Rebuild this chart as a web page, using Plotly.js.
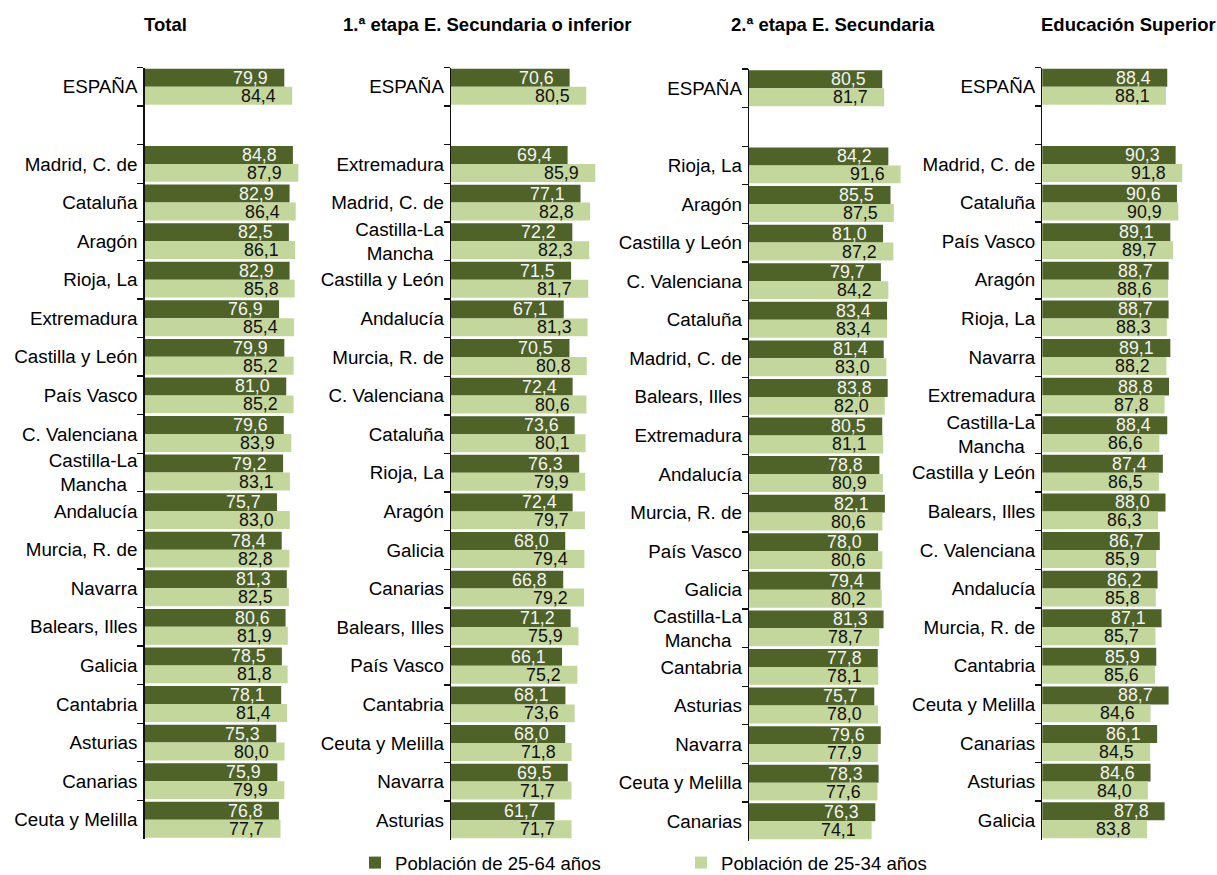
<!DOCTYPE html>
<html><head><meta charset="utf-8">
<script src="https://cdn.plot.ly/plotly-3.0.1.min.js"></script>
<style>html,body{margin:0;padding:0;background:#fff}</style>
</head><body><div id="chart" style="width:1217px;height:875px"></div>
<script>
const panelTitles = ["Total", "1.ª etapa E. Secundaria o inferior", "2.ª etapa E. Secundaria", "Educación Superior"];
const seriesNames = ["Población de 25-64 años", "Población de 25-34 años"];

const totalRegions = ["ESPAÑA","Madrid, C. de","Cataluña","Aragón","Rioja, La","Extremadura","Castilla y León","País Vasco","C. Valenciana","Castilla-La Mancha","Andalucía","Murcia, R. de","Navarra","Balears, Illes","Galicia","Cantabria","Asturias","Canarias","Ceuta y Melilla"];
const total2564 = [79.9,84.8,82.9,82.5,82.9,76.9,79.9,81.0,79.6,79.2,75.7,78.4,81.3,80.6,78.5,78.1,75.3,75.9,76.8];
const total2534 = [84.4,87.9,86.4,86.1,85.8,85.4,85.2,85.2,83.9,83.1,83.0,82.8,82.5,81.9,81.8,81.4,80.0,79.9,77.7];

const primRegions = ["ESPAÑA","Extremadura","Madrid, C. de","Castilla-La Mancha","Castilla y León","Andalucía","Murcia, R. de","C. Valenciana","Cataluña","Rioja, La","Aragón","Galicia","Canarias","Balears, Illes","País Vasco","Cantabria","Ceuta y Melilla","Navarra","Asturias"];
const prim2564 = [70.6,69.4,77.1,72.2,71.5,67.1,70.5,72.4,73.6,76.3,72.4,68.0,66.8,71.2,66.1,68.1,68.0,69.5,61.7];
const prim2534 = [80.5,85.9,82.8,82.3,81.7,81.3,80.8,80.6,80.1,79.9,79.7,79.4,79.2,75.9,75.2,73.6,71.8,71.7,71.7];

const secRegions = ["ESPAÑA","Rioja, La","Aragón","Castilla y León","C. Valenciana","Cataluña","Madrid, C. de","Balears, Illes","Extremadura","Andalucía","Murcia, R. de","País Vasco","Galicia","Castilla-La Mancha","Cantabria","Asturias","Navarra","Ceuta y Melilla","Canarias"];
const sec2564 = [80.5,84.2,85.5,81.0,79.7,83.4,81.4,83.8,80.5,78.8,82.1,78.0,79.4,81.3,77.8,75.7,79.6,78.3,76.3];
const sec2534 = [81.7,91.6,87.5,87.2,84.2,83.4,83.0,82.0,81.1,80.9,80.6,80.6,80.2,78.7,78.1,78.0,77.9,77.6,74.1];

const supRegions = ["ESPAÑA","Madrid, C. de","Cataluña","País Vasco","Aragón","Rioja, La","Navarra","Extremadura","Castilla-La Mancha","Castilla y León","Balears, Illes","C. Valenciana","Andalucía","Murcia, R. de","Cantabria","Ceuta y Melilla","Canarias","Asturias","Galicia"];
const sup2564 = [88.4,90.3,90.6,89.1,88.7,88.7,89.1,88.8,88.4,87.4,88.0,86.7,86.2,87.1,85.9,88.7,86.1,84.6,87.8];
const sup2534 = [88.1,91.8,90.9,89.7,88.6,88.3,88.2,87.8,86.6,86.5,86.3,85.9,85.8,85.7,85.6,84.6,84.5,84.0,83.8];

const panels = [
  {regions: totalRegions, a: total2564, b: total2534},
  {regions: primRegions, a: prim2564, b: prim2534},
  {regions: secRegions, a: sec2564, b: sec2534},
  {regions: supRegions, a: sup2564, b: sup2534}
];

// layout geometry (pixels)
const W = 1217, H = 875;
const axisLeft = [144.5, 451, 749, 1042.3];
const pxPerUnit = [1.75, 1.68, 1.655, 4.4];
const xRanges = [[0,100],[0,100],[0,100],[60,95]];
const titleCenters = [165, 487, 833, 1128];
const plotTops = [67.5, 67.5, 69, 67.5], plotBottoms = [839, 839.5, 840.5, 839.5];
const darkColor = "#4F6228", lightColor = "#C3D69B";
const FONT = "Liberation Sans, Arial, sans-serif";

function display(name) {
  return name === "Castilla-La Mancha" ? "Castilla-La<br>Mancha\u00a0\u00a0" : name;
}

const traces = [];
const annotations = [];
const layout = {
  width: W, height: H,
  margin: {l:0, r:0, t:0, b:0, autoexpand: false},
  paper_bgcolor: "#fff", plot_bgcolor: "rgba(0,0,0,0)",
  barmode: "group", bargap: 0.07, bargroupgap: 0,
  font: {family: FONT, size: 18, color: "#000"},
  showlegend: true,
  legend: {orientation: "h", x: 355/W, xanchor: "left", y: 1 - 863/H, yanchor: "middle",
           font: {family: FONT, size: 18.6, color: "#000"}, entrywidth: 281, entrywidthmode: "pixels",
           traceorder: "normal", itemclick: false, itemdoubleclick: false},
  annotations: annotations
};

panels.forEach((p, i) => {
  const n = i + 1;
  const xa = "x" + (n === 1 ? "" : n), ya = "y" + (n === 1 ? "" : n);
  const labels = p.regions.map(display);
  const cats = [labels[0], " "].concat(labels.slice(1));
  traces.push({type: "bar", orientation: "h", name: seriesNames[0], x: p.a, y: labels,
    xaxis: xa, yaxis: ya, marker: {color: darkColor}, showlegend: i === 0, legendgroup: "a",
    hoverinfo: "x+y", cliponaxis: false});
  traces.push({type: "bar", orientation: "h", name: seriesNames[1], x: p.b, y: labels,
    xaxis: xa, yaxis: ya, marker: {color: lightColor}, showlegend: i === 0, legendgroup: "b",
    hoverinfo: "x+y", cliponaxis: false});
  const xr = xRanges[i];
  const right = axisLeft[i] + (xr[1] - xr[0]) * pxPerUnit[i];
  layout["xaxis" + (n === 1 ? "" : n)] = {
    domain: [axisLeft[i]/W, right/W], range: xr, anchor: ya,
    visible: false, showgrid: false, zeroline: false, fixedrange: true
  };
  layout["yaxis" + (n === 1 ? "" : n)] = {
    domain: [1 - plotBottoms[i]/H, 1 - plotTops[i]/H], anchor: xa,
    type: "category", categoryorder: "array", categoryarray: cats,
    range: [cats.length - 0.5, -0.5], tickson: "boundaries",
    ticks: "outside", ticklen: 6, tickwidth: 1.3, tickcolor: "#111",
    showline: true, linecolor: "#111", linewidth: 1.3, showgrid: false, zeroline: false,
    tickfont: {family: FONT, size: 18.8, color: "#000"}, ticklabelstandoff: 2, fixedrange: true
  };
  annotations.push({text: "<b>" + panelTitles[i] + "</b>", xref: "paper", yref: "paper",
    x: titleCenters[i]/W, y: 1 - 24/H, xanchor: "center", yanchor: "middle", showarrow: false,
    font: {family: FONT, size: 18.5, color: "#000"}});
  labels.forEach((lab, j) => {
    annotations.push({text: p.a[j].toFixed(1).replace(".", ","), x: p.a[j], y: lab, xref: xa, yref: ya,
      xanchor: "right", yanchor: "middle", xshift: -14, yshift: 9, showarrow: false,
      font: {family: FONT, size: 17.8, color: "#F4F4F4"}});
    annotations.push({text: p.b[j].toFixed(1).replace(".", ","), x: p.b[j], y: lab, xref: xa, yref: ya,
      xanchor: "right", yanchor: "middle", xshift: -14, yshift: -9, showarrow: false,
      font: {family: FONT, size: 17.8, color: "#111"}});
  });
});

Plotly.newPlot("chart", traces, layout, {staticPlot: true, displayModeBar: false});
</script>
</body></html>
